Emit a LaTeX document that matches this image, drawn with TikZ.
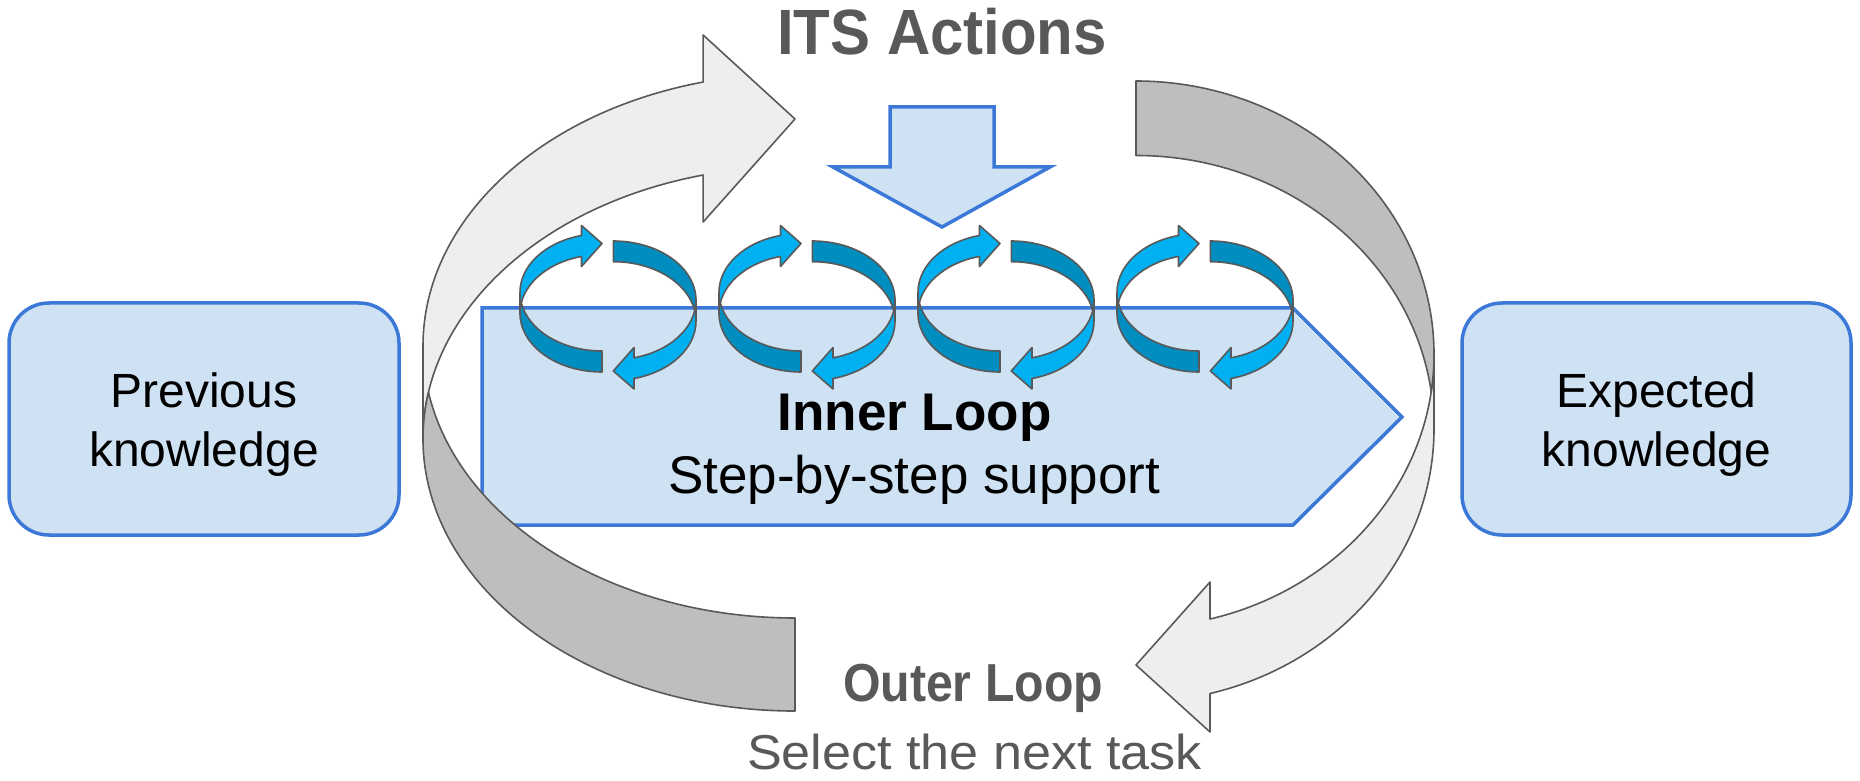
\documentclass[tikz,border=0pt]{standalone}
\usepackage{fontspec}
\setmainfont{Liberation Sans}
\usepackage{graphicx}
\definecolor{boxblue}{HTML}{3C78D8}
\definecolor{boxfill}{HTML}{CFE2F3}
\definecolor{ink}{HTML}{595959}
\definecolor{loopfront}{HTML}{EEEEEE}
\definecolor{loopback}{HTML}{BEBEBE}
\definecolor{spinfront}{HTML}{00B0F0}
\definecolor{spinback}{HTML}{008DC0}

\begin{document}
\begin{tikzpicture}[x=1pt, y=1pt,
  kbox/.style={draw=boxblue, fill=boxfill, line width=3.5pt, rounded corners=40pt,
               minimum width=390pt, minimum height=232pt, inner sep=0pt},
  blueshape/.style={draw=boxblue, fill=boxfill, line width=3.5pt, line join=miter},
  ribbon/.style={draw=ink, line width=1.6pt, line join=round, fill=#1},
  ktext/.style={anchor=base, inner sep=0pt, font=\fontsize{48}{58}\selectfont},
  title/.style={anchor=base, inner sep=0pt, text=ink},
  % one small rotating-arrow icon (two curved halves, front and back faces)
  twirl/.pic={
    \path[ribbon=spinfront] (520,487.7)
      arc[start angle=180, end angle=104.48, x radius=82, y radius=58.7]
      -- (581.5,554.5) -- (602,536.5) -- (581.5,513.5) -- (581.5,523.54)
      arc[start angle=104.48, end angle=180, x radius=82, y radius=58.7] -- cycle;
    \path[ribbon=spinfront] (696,458.95)
      arc[start angle=0, end angle=-75.5, x radius=82.7, y radius=59.35]
      -- (634,391) -- (613.3,409) -- (634,432.5) -- (634,422.19)
      arc[start angle=-75.5, end angle=0, x radius=82.7, y radius=59.35] -- cycle;
    \path[ribbon=spinback] (521.32,477.2)
      arc[start angle=169.70, end angle=270, x radius=82, y radius=58.7]
      -- (602,429)
      arc[start angle=270, end angle=190.30, x radius=82, y radius=58.7] -- cycle;
    \path[ribbon=spinback] (694.73,469.3)
      arc[start angle=-10.04, end angle=90, x radius=82.7, y radius=59.35]
      -- (613.3,518.3)
      arc[start angle=90, end angle=10.04, x radius=82.7, y radius=59.35] -- cycle;
  }
]
\useasboundingbox (0,0) rectangle (1860,780);

% inner loop banner
\path[blueshape] (482,472) -- (1293,472) -- (1402,363) -- (1293,255) -- (482,255) -- cycle;

% step-by-step rotation icons
\foreach \k in {0,1,2,3} \pic at (199*\k,0) {twirl};

% outer loop: left curved arrow (front face up, back face down)
\path[ribbon=loopfront] (423,434.2)
  arc[start angle=180, end angle=104.3, x radius=372, y radius=272.2]
  -- (703.12,745) -- (795,661) -- (703.12,558) -- (703.12,604.97)
  arc[start angle=104.3, end angle=180, x radius=372, y radius=272.2] -- cycle;
\path[ribbon=loopback] (428.46,387.7)
  arc[start angle=170.16, end angle=270, x radius=372, y radius=272.2]
  -- (795,162)
  arc[start angle=270, end angle=189.84, x radius=372, y radius=272.2] -- cycle;

% outer loop: right curved arrow (back face up, front face down)
\path[ribbon=loopfront] (1434,351.2)
  arc[start angle=0, end angle=-75.62, x radius=298, y radius=273.3]
  -- (1210,48) -- (1136,115) -- (1210,198) -- (1210,160.96)
  arc[start angle=-75.62, end angle=0, x radius=298, y radius=273.3] -- cycle;
\path[ribbon=loopback] (1431.22,388.45)
  arc[start angle=-7.834, end angle=90, x radius=298, y radius=273.3]
  -- (1136,624.5)
  arc[start angle=90, end angle=7.834, x radius=298, y radius=273.3] -- cycle;

% ITS actions arrow
\path[blueshape] (890,673) -- (994,673) -- (994,613) -- (1050,613) -- (942,553)
  -- (833,613) -- (890,613) -- cycle;

% knowledge boxes
\node[kbox] (prev) at (204,361) {};
\node[kbox, minimum width=389pt] (expect) at (1656.5,361) {};
\node[ktext] (prevA) at (204,372) {Previous};
\node[ktext] (prevB) at (204,314) {knowledge};
\node[ktext] (expA) at (1656.5,372) {Expected};
\node[ktext] (expB) at (1656.5,314) {knowledge};

% labels
\node[anchor=base, inner sep=0pt, font=\fontsize{53}{60}\selectfont\bfseries] (innerA) at (914.5,349) {Inner Loop};
\node[anchor=base, inner sep=0pt, font=\fontsize{53}{60}\selectfont] (innerB) at (914,287) {Step-by-step support};
\node[title, font=\fontsize{64}{70}\selectfont\bfseries] (its) at (942,725)
  {\scalebox{0.937}[1]{ITS Actions}};
\node[title, font=\fontsize{53.5}{60}\selectfont\bfseries] (outer) at (973,79)
  {\scalebox{0.902}[1]{Outer Loop}};
\node[title, text depth=0pt, font=\fontsize{49}{60}\selectfont] (select) at (974.5,11)
  {\scalebox{1.064}[1]{Select the next task}};
\end{tikzpicture}
\end{document}
